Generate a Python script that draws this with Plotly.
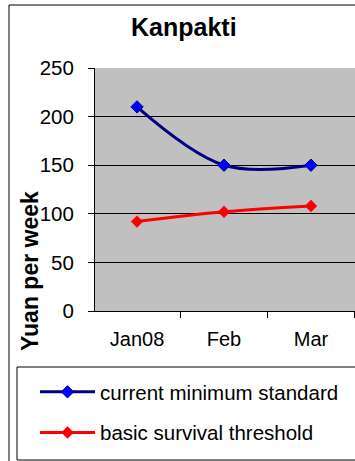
import plotly.graph_objects as go

categories = ["Jan08", "Feb", "Mar"]
current_min = [210, 150, 150]
survival = [92, 102, 108]
series_names = ["current minimum standard", "basic survival threshold"]
y_ticks = [0, 50, 100, 150, 200, 250]

W, H = 355, 461
FONT = "Liberation Sans, Arial, sans-serif"

def px(x):
    return x / W

def py(y):
    return 1 - y / H

fig = go.Figure()
fig.add_trace(go.Scatter(
    x=categories, y=current_min, name=series_names[0], mode="lines+markers",
    line=dict(color="#000080", width=3, shape="spline", smoothing=1),
    marker=dict(symbol="diamond", size=9.5, color="#0000FF", line=dict(color="#000080", width=1)),
    legendgroup="a",
))
fig.add_trace(go.Scatter(
    x=categories, y=survival, name=series_names[1], mode="lines+markers",
    line=dict(color="#FF0000", width=3, shape="spline", smoothing=1),
    marker=dict(symbol="diamond", size=9.5, color="#FF0000"),
    legendgroup="b",
))

fig.update_layout(
    template="none",
    width=W, height=H, autosize=False,
    margin=dict(l=0, r=0, t=0, b=0, pad=0, autoexpand=False),
    paper_bgcolor="white",
    plot_bgcolor="#C0C0C0",
    font=dict(family=FONT, color="black", size=20),
    showlegend=True,
    legend=dict(
        x=px(35), y=py(372), xanchor="left", yanchor="top",
        bgcolor="rgba(0,0,0,0)", borderwidth=0,
        font=dict(size=20.5, family=FONT), itemwidth=55,
        traceorder="grouped", tracegroupgap=11,
    ),
    xaxis=dict(
        type="category", domain=[px(95), 1], range=[-0.483, 2.506],
        showline=True, linecolor="black", linewidth=1, automargin=False,
        ticks="outside", ticklen=6, tickcolor="black", tickson="boundaries",
        showgrid=False, zeroline=False, tickfont=dict(size=20), ticklabelstandoff=10,
    ),
    yaxis=dict(
        domain=[py(311), py(68)], range=[0, 250],
        tickvals=y_ticks, automargin=False,
        showline=True, linecolor="black", linewidth=1,
        ticks="outside", ticklen=6, tickcolor="black",
        showgrid=True, gridcolor="black", gridwidth=1, zeroline=False,
        tickfont=dict(size=20.5), ticklabelstandoff=10,
    ),
    shapes=[
        dict(type="rect", xref="paper", yref="paper", x0=px(9), x1=px(358), y0=py(464), y1=py(5),
             line=dict(color="black", width=1), fillcolor="rgba(0,0,0,0)", layer="below"),
        dict(type="rect", xref="paper", yref="paper", x0=px(17), x1=px(358), y0=py(460), y1=py(367),
             line=dict(color="black", width=1), fillcolor="white", layer="above"),
    ],
    annotations=[
        dict(text="<b>Kanpakti</b>", xref="paper", yref="paper", x=px(184), y=py(27),
             xanchor="center", yanchor="middle", showarrow=False, font=dict(size=25, family=FONT)),
        dict(text="<b>Yuan per week</b>", xref="paper", yref="paper", x=px(30), y=py(271),
             xanchor="center", yanchor="middle", textangle=-90, showarrow=False,
             font=dict(size=23, family=FONT)),
    ],
)

fig.write_html(
    "out.html",
    config={"displayModeBar": False},
    post_script="document.body.style.margin='0';document.body.style.overflow='hidden';",
)
